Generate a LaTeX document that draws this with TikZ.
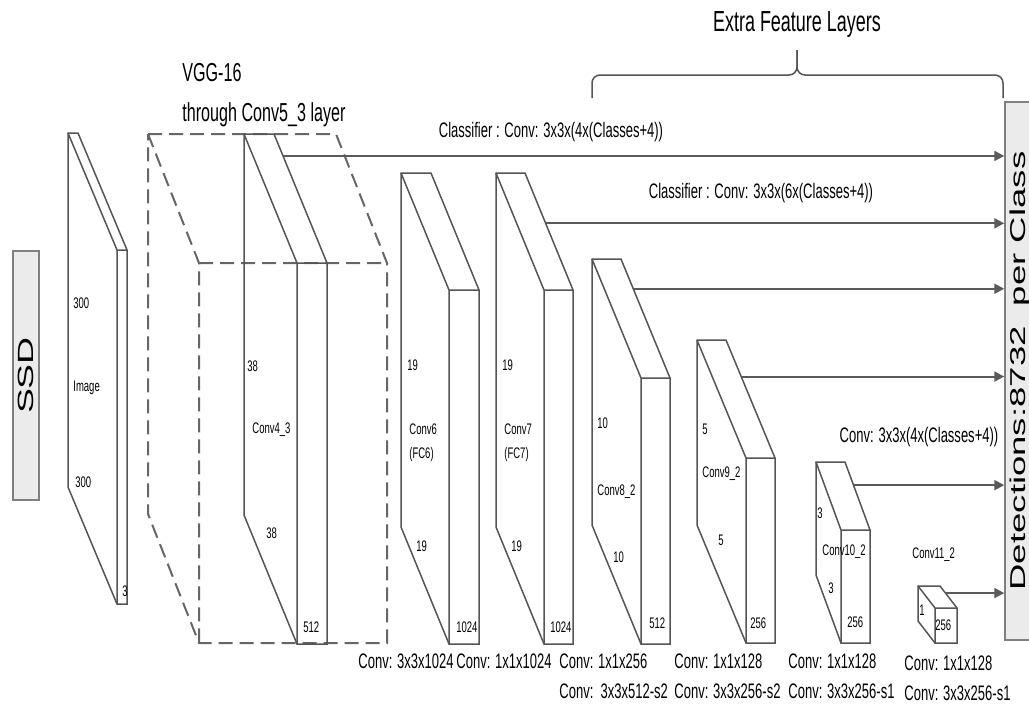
\documentclass[tikz,border=0pt]{standalone}
\usepackage{fontspec}
\setmainfont{Liberation Sans}[FakeStretch=0.62]
\newfontfamily\widesans{Liberation Sans}[FakeStretch=1.7]
\usetikzlibrary{positioning, arrows.meta, calc}

\definecolor{edgegray}{HTML}{555555}
\definecolor{arrowgray}{HTML}{5A5A5A}
\definecolor{boxgray}{HTML}{EBEBEB}

% [style]{name}{x}{y}{thickness}{height}{dx}{dy}
\newcommand{\slab}[8][]{%
  \draw[slabline,#1] (#3,#4) coordinate (#2-btl) -- ++(#5,0) coordinate (#2-btr)
    -- ++(#7,#8) coordinate (#2-ftr) -- ++(0,#6) coordinate (#2-fbr)
    -- ++(-#5,0) coordinate (#2-fbl) -- ++(-#7,-#8) coordinate (#2-bbl) -- cycle;
  \draw[slabline,#1] (#2-btl) -- ++(#7,#8) coordinate (#2-ftl) -- (#2-fbl)
    (#2-ftl) -- (#2-ftr);
}

\begin{document}
\begin{tikzpicture}[x=0.5pt, y=-0.5pt,
    slabline/.style={draw=edgegray, line width=0.75pt},
    vggbox/.style={draw=edgegray!90, line width=1pt, dash pattern=on 7pt off 3.5pt},
    feed/.style={draw=arrowgray, line width=1pt, -{Triangle[length=5pt, width=5pt]}},
    bracel/.style={draw=edgegray, line width=0.75pt, rounded corners=4pt},
    dimtext/.style={font=\fontsize{7.66}{9}\selectfont, inner sep=0pt, anchor=west},
    lbl/.style={font=\fontsize{10.5}{12}\selectfont, inner sep=0pt},
    head/.style={font=\fontsize{13}{15}\selectfont, inner sep=0pt},
    sidebox/.style={draw=gray, fill=boxgray, line width=0.75pt, rotate=90, inner sep=0pt,
      font=\widesans\fontsize{10.75}{12}\selectfont}]
  \useasboundingbox (0,0) rectangle (1029,709);

  % side boxes
  \node[sidebox, minimum width=124.5pt, minimum height=13pt,
    font=\widesans\fontsize{11}{13}\selectfont] (ssd) at (26,375.5) {SSD};
  \node[sidebox, minimum width=269pt, minimum height=14.5pt] (det) at (1019.5,371)
    {Detections:8732\ \ per Class};

  % layers
  \slab{img}{68}{133}{10}{354}{49}{117}
  \slab[vggbox]{vgg}{148}{134}{188}{380}{51}{129}
  \slab{c43}{244}{134}{30}{381}{53}{129}
  \slab{c6}{401}{173}{30}{354}{48}{117}
  \slab{c7}{496}{173}{29}{354}{48}{117}
  \slab{c82}{592}{259}{29}{266}{49}{119}
  \slab{c92}{697}{340}{29}{185}{49}{118}
  \slab{c102}{816}{462}{29}{113}{25}{68}
  \slab{c112}{918}{586}{22}{35}{17}{22}

  % feeds to the detections
  \foreach \n/\f in {c43/0.17, c7/0.43, c82/0.25, c92/0.31, c102/0.34, c112/0.32}{
    \coordinate (\n-out) at ($(\n-btr)!\f!(\n-ftr)$);
    \draw[feed] (\n-out) -- (\n-out -| det.north);
  }

  % brace
  \draw[bracel] (592,98) |- (797,75) -- (797,50);
  \draw[bracel] (1003,98) |- (797,75) -- (797,50);

  % titles
  \node[head, font=\fontsize{14.5}{17}\selectfont] (extra) at (797,25) {Extra Feature Layers};
  \node[head, anchor=west] (vgg1) at (182,73) {VGG-16};
  \node[head, below=21pt of vgg1.west, anchor=west] (vgg2) {through Conv5\_3 layer};
  \node[lbl] (cls1) at (551,132) {Classifier : Conv: 3x3x(4x(Classes+4))};
  \node[lbl] (cls2) at (761,193) {Classifier : Conv: 3x3x(6x(Classes+4))};
  \node[lbl] (cls3) at (919,437) {Conv: 3x3x(4x(Classes+4))};

  % sizes inside the layers
  \foreach \x/\y/\t [count=\i] in {73/303/300, 73/388/Image, 75/482/300, 122/591/3,
      247/366/38, 252/430/Conv4\_3, 266/533/38, 303/627/512,
      407/365/19, 409/429/Conv6, 409/455/(FC6), 416/546/19, 456/627/1024,
      502/365/19, 504/429/Conv7, 504/455/(FC7), 511/546/19, 550/627/1024,
      597/423/10, 597/492/Conv8\_2, 613/557/10, 649/623/512,
      702/429/5, 702/474/Conv9\_2, 718/540/5, 750/623/256,
      817/513/3, 822/552/Conv10\_2, 828/588/3, 847/622/256,
      919/610/1, 935/625/256, 912/555/Conv11\_2}
    \node[dimtext] (dim\i) at (\x,\y) {\t};

  % kernels under the layers
  \node[lbl, anchor=west] (k6) at (358,661) {Conv: 3x3x1024};
  \node[lbl, anchor=west] (k7) at (456,661) {Conv: 1x1x1024};
  \node[lbl, anchor=west] (k8a) at (559,661) {Conv: 1x1x256};
  \node[lbl, below=15pt of k8a.west, anchor=west] (k8b) {Conv:\ \ 3x3x512-s2};
  \node[lbl, anchor=west] (k9a) at (674,661) {Conv: 1x1x128};
  \node[lbl, below=15pt of k9a.west, anchor=west] (k9b) {Conv: 3x3x256-s2};
  \node[lbl, anchor=west] (k10a) at (788,661) {Conv: 1x1x128};
  \node[lbl, below=15pt of k10a.west, anchor=west] (k10b) {Conv: 3x3x256-s1};
  \node[lbl, anchor=west] (k11a) at (904,663) {Conv: 1x1x128};
  \node[lbl, below=15pt of k11a.west, anchor=west] (k11b) {Conv: 3x3x256-s1};
\end{tikzpicture}
\end{document}
